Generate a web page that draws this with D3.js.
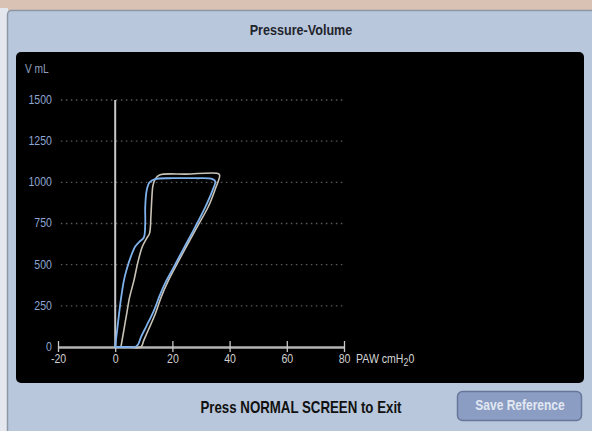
<!DOCTYPE html>
<html>
<head>
<meta charset="utf-8">
<script src="https://cdn.jsdelivr.net/npm/d3@7"></script>
<style>
  body { margin: 0; background: #d9c2b4; }
  svg { display: block; }
</style>
</head>
<body>
<div id="chart"></div>
<script>
// Pressure-Volume loop screen

// Axis ticks
const pressureTicks = [-20, 0, 20, 40, 60, 80]
const volumeTicks = [0, 250, 500, 750, 1000, 1250, 1500]

// Loop 1 (blue) - pressure cmH2O / volume mL
const bluePressure = [0, 1, 2, 3, 4, 5.5, 7, 8.5, 10, 10.5, 10.5, 11, 12, 14, 20, 28, 34, 35, 34, 31.5, 28, 24, 20, 17.5, 15.5, 13.5, 11, 9, 8, 7, 4, 0]
const blueVolume = [0, 150, 290, 400, 470, 550, 610, 640, 665, 750, 850, 950, 1000, 1020, 1025, 1025, 1020, 1005, 950, 850, 730, 600, 470, 390, 310, 220, 130, 60, 15, 0, 0, 0]

// Loop 2 (grey) - pressure cmH2O / volume mL
const greyPressure = [2, 3, 4, 5, 6.5, 8, 9.5, 11, 12, 12.5, 12.8, 13.2, 14, 15.5, 25, 35.5, 36.5, 35, 32.5, 29, 25.5, 21.5, 18.5, 16, 14, 11.5, 10, 9, 5, 2]
const greyVolume = [0, 100, 200, 300, 400, 520, 610, 660, 690, 800, 900, 980, 1020, 1045, 1050, 1055, 1045, 960, 850, 740, 630, 500, 400, 300, 200, 100, 40, 0, 0, 0]

const width = 592
const height = 431
const font = 'Liberation Sans, Arial, sans-serif'

const svg = d3.select('#chart')
  .append('svg')
  .attr('width', width)
  .attr('height', height)

// squeeze a text horizontally around its anchor point
const condense = (sel, k) => sel.attr('transform', function () {
  const ax = +d3.select(this).attr('x')
  return `translate(${ax},0) scale(${k},1) translate(${-ax},0)`
})

// photo-ish background strips
svg.append('rect').attr('x', 0).attr('y', 0).attr('width', width).attr('height', height).attr('fill', '#d9c2b4')
svg.append('rect').attr('x', 0).attr('y', 8).attr('width', 8).attr('height', height).attr('fill', '#e4e8ee')

// Panel
svg.append('rect')
  .attr('x', 7.5).attr('y', 10.5)
  .attr('width', 592).attr('height', 430)
  .attr('rx', 4)
  .attr('fill', '#b9c7dc')
  .attr('stroke', '#8d96a4')
  .attr('stroke-width', 1.5)

svg.append('text')
  .attr('x', 301).attr('y', 35)
  .attr('text-anchor', 'middle')
  .attr('font-family', font)
  .attr('font-weight', 'bold')
  .attr('font-size', 14)
  .attr('fill', '#1f242c')
  .text('Pressure-Volume')
  .call(condense, 0.9)

// Black plot area
svg.append('rect')
  .attr('x', 16).attr('y', 52)
  .attr('width', 568).attr('height', 331)
  .attr('rx', 5)
  .attr('fill', '#000')

// Scales
const x = d3.scaleLinear().domain([-20, 80]).range([58, 344])
const y = d3.scaleLinear().domain([0, 1500]).range([347, 100])

// Grid (dotted)
svg.append('g')
  .selectAll('line')
  .data(volumeTicks.slice(1))
  .enter().append('line')
  .attr('x1', x(-19)).attr('x2', x(80))
  .attr('y1', d => y(d)).attr('y2', d => y(d))
  .attr('stroke', '#5a5a5a')
  .attr('stroke-width', 1.3)
  .attr('stroke-dasharray', '1.5,3.5')

// Y labels
svg.append('g')
  .selectAll('text')
  .data(volumeTicks)
  .enter().append('text')
  .attr('x', 52)
  .attr('y', d => y(d) + 4)
  .attr('text-anchor', 'end')
  .attr('font-family', font)
  .attr('font-size', 12)
  .attr('fill', '#8ea6d2')
  .text(d => d)
  .call(condense, 0.88)

svg.append('text')
  .attr('x', 25).attr('y', 73)
  .attr('font-family', font)
  .attr('font-size', 12)
  .attr('fill', '#8f9fbf')
  .text('V mL')
  .call(condense, 0.85)

// X axis
const xAxis = d3.axisBottom(x)
  .tickValues(pressureTicks)
  .tickSize(0)
  .tickPadding(7)
  .tickFormat(d => d)

const gx = svg.append('g')
  .attr('transform', `translate(0,${y(0)})`)
  .call(xAxis)
gx.select('.domain').attr('stroke', '#b4b4b4').attr('stroke-width', 2.5)
gx.selectAll('.tick text')
  .attr('font-family', font)
  .attr('font-size', 12)
  .attr('fill', '#d0d0d0')
  .attr('transform', 'scale(0.88,1)')
gx.selectAll('.tick').append('line')
  .attr('y1', -6).attr('y2', 5)
  .attr('stroke', '#c8c8c8')
  .attr('stroke-width', 1.3)

svg.append('text')
  .attr('x', 356).attr('y', y(0) + 16)
  .attr('font-family', font)
  .attr('font-size', 12)
  .attr('fill', '#d6d6d6')
  .html('PAW cmH<tspan dy="3" font-size="10">2</tspan><tspan dy="-3">0</tspan>')
  .call(condense, 0.88)

// Vertical zero line
svg.append('line')
  .attr('x1', x(0)).attr('x2', x(0))
  .attr('y1', y(1500)).attr('y2', y(0))
  .attr('stroke', '#c8c8c8')
  .attr('stroke-width', 2)

// Loops
const line = d3.line()
  .x(d => x(d[0]))
  .y(d => y(d[1]))
  .curve(d3.curveCatmullRom.alpha(0.5))

const greyLoop = d3.zip(greyPressure, greyVolume)
const blueLoop = d3.zip(bluePressure, blueVolume)

svg.append('path')
  .datum(greyLoop)
  .attr('d', line)
  .attr('fill', 'none')
  .attr('stroke', '#c9c2b6')
  .attr('stroke-width', 1.6)

svg.append('path')
  .datum(blueLoop)
  .attr('d', line)
  .attr('fill', 'none')
  .attr('stroke', '#7fb2ec')
  .attr('stroke-width', 1.8)

// Bottom message
svg.append('text')
  .attr('x', 301).attr('y', 413)
  .attr('text-anchor', 'middle')
  .attr('font-family', font)
  .attr('font-weight', 'bold')
  .attr('font-size', 16)
  .attr('fill', '#111')
  .text('Press NORMAL SCREEN to Exit')
  .call(condense, 0.83)

// Save Reference button
svg.append('rect')
  .attr('x', 457.5).attr('y', 391.5)
  .attr('width', 124).attr('height', 29)
  .attr('rx', 5)
  .attr('fill', '#8b9dc3')
  .attr('stroke', '#66779a')
  .attr('stroke-width', 1.5)

svg.append('text')
  .attr('x', 520).attr('y', 410)
  .attr('text-anchor', 'middle')
  .attr('font-family', font)
  .attr('font-weight', 'bold')
  .attr('font-size', 15)
  .attr('fill', '#e2e8f2')
  .text('Save Reference')
  .call(condense, 0.8)
</script>
</body>
</html>
